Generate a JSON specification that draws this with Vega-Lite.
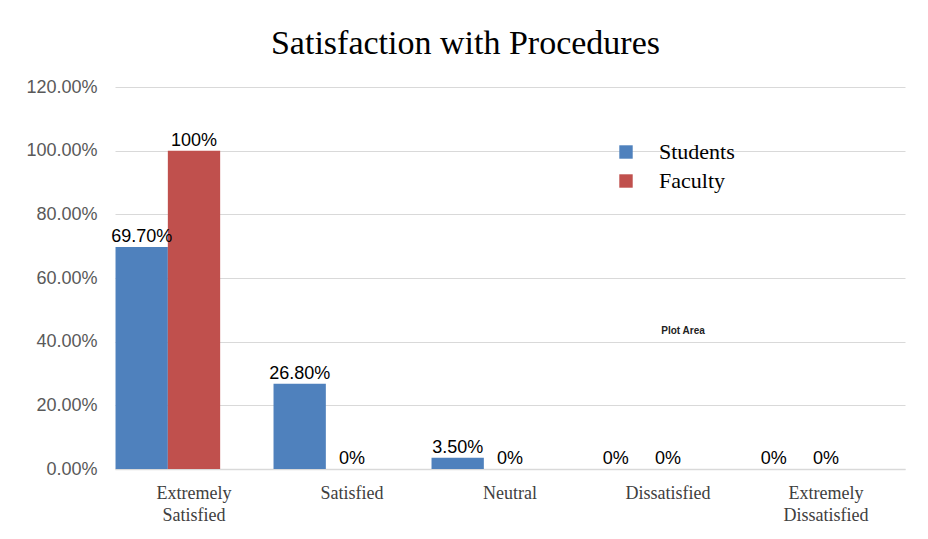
{
  "$schema": "https://vega.github.io/schema/vega-lite/v6.json",
  "width": 790,
  "height": 382,
  "autosize": {"type": "none"},
  "padding": {"left": 115, "top": 87, "right": 23, "bottom": 70},
  "background": "white",
  "title": {
    "text": "Satisfaction with Procedures",
    "font": "Liberation Serif",
    "fontSize": 34,
    "fontWeight": "normal",
    "color": "#000000",
    "anchor": "middle",
    "frame": "bounds",
    "offset": 17
  },
  "datasets": {
    "bars": [
      {"category": "Extremely Satisfied", "group": "Students", "value": 0.697, "label": "69.70%"},
      {"category": "Extremely Satisfied", "group": "Faculty", "value": 1.0, "label": "100%"},
      {"category": "Satisfied", "group": "Students", "value": 0.268, "label": "26.80%"},
      {"category": "Satisfied", "group": "Faculty", "value": 0.0, "label": "0%"},
      {"category": "Neutral", "group": "Students", "value": 0.035, "label": "3.50%"},
      {"category": "Neutral", "group": "Faculty", "value": 0.0, "label": "0%"},
      {"category": "Dissatisfied", "group": "Students", "value": 0.0, "label": "0%"},
      {"category": "Dissatisfied", "group": "Faculty", "value": 0.0, "label": "0%"},
      {"category": "Extremely Dissatisfied", "group": "Students", "value": 0.0, "label": "0%"},
      {"category": "Extremely Dissatisfied", "group": "Faculty", "value": 0.0, "label": "0%"}
    ],
    "note": [
      {"category": "Dissatisfied", "value": 0.434, "label": "Plot Area"}
    ]
  },
  "layer": [
    {
      "data": {"name": "bars"},
      "mark": {"type": "bar"},
      "encoding": {
        "x": {
          "field": "category", "type": "nominal",
          "sort": ["Extremely Satisfied", "Satisfied", "Neutral", "Dissatisfied", "Extremely Dissatisfied"],
          "scale": {"paddingInner": 0, "paddingOuter": 0},
          "axis": {
            "title": null, "labelAngle": 0, "ticks": false,
            "domainColor": "#d9d9d9", "domainWidth": 1.5,
            "labelFont": "Liberation Serif", "labelFontSize": 18, "labelColor": "#404040",
            "labelPadding": 15, "labelLineHeight": 22,
            "labelExpr": "split(datum.label, ' ')"
          }
        },
        "xOffset": {
          "field": "group", "type": "nominal",
          "scale": {"domain": ["Students", "Faculty", "none"], "paddingInner": 0, "paddingOuter": 0.01}
        },
        "y": {
          "field": "value", "type": "quantitative",
          "scale": {"domain": [0, 1.2], "nice": false},
          "axis": {
            "title": null, "format": ".2%", "values": [0, 0.2, 0.4, 0.6, 0.8, 1.0, 1.2],
            "domain": false, "ticks": false, "labelOverlap": false,
            "gridColor": "#d9d9d9", "gridWidth": 1.2,
            "labelFont": "Liberation Sans", "labelFontSize": 18, "labelColor": "#595959",
            "labelPadding": 18
          }
        },
        "color": {
          "field": "group", "type": "nominal",
          "scale": {"domain": ["Students", "Faculty"], "range": ["#4F81BD", "#C0504D"]},
          "legend": {
            "title": null, "orient": "none", "legendX": 500, "legendY": 54,
            "symbolType": "square", "symbolSize": 180, "symbolStrokeWidth": 0,
            "labelFont": "Liberation Serif", "labelFontSize": 22, "labelColor": "#000000",
            "labelOffset": 22, "rowPadding": 7
          }
        }
      }
    },
    {
      "data": {"name": "bars"},
      "mark": {"type": "text", "baseline": "alphabetic", "dy": -5, "font": "Liberation Sans", "fontSize": 18, "color": "#000000"},
      "encoding": {
        "x": {"field": "category", "type": "nominal", "sort": ["Extremely Satisfied", "Satisfied", "Neutral", "Dissatisfied", "Extremely Dissatisfied"]},
        "xOffset": {"field": "group", "type": "nominal"},
        "y": {"field": "value", "type": "quantitative"},
        "text": {"field": "label"}
      }
    },
    {
      "data": {"name": "note"},
      "mark": {"type": "text", "dx": 15, "font": "Liberation Sans", "fontSize": 10, "fontWeight": "bold", "color": "#222222"},
      "encoding": {
        "x": {"field": "category", "type": "nominal", "sort": ["Extremely Satisfied", "Satisfied", "Neutral", "Dissatisfied", "Extremely Dissatisfied"]},
        "y": {"field": "value", "type": "quantitative"},
        "text": {"field": "label"}
      }
    }
  ],
  "config": {"view": {"stroke": null}}
}
